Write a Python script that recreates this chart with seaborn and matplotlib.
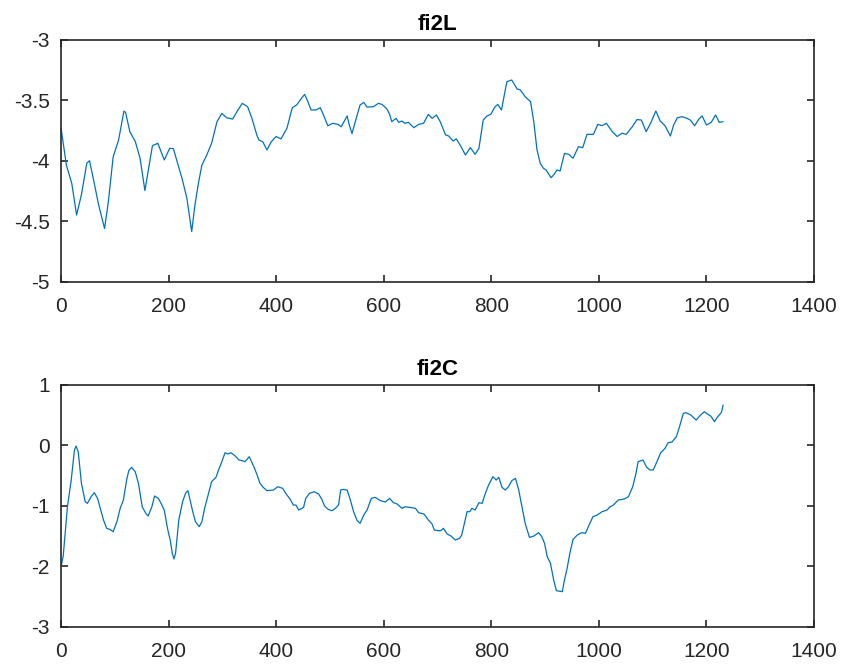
import matplotlib
matplotlib.use("Agg")
import matplotlib.pyplot as plt
import seaborn as sns
import pandas as pd

top_x = [0,10,20,29,38,48,53,60,70,81,88,97,107,117,120,128,138,147,156,163,170,180,186,192,202,209,215,225,234,243,249,256,262,271,280,290,299,308,319,329,337,347,355,364,368,375,383,391,400,409,420,430,438,447,453,459,465,474,482,488,496,505,515,521,532,536,541,548,556,563,569,581,590,597,606,611,615,623,628,634,639,646,656,665,674,683,690,698,705,715,721,729,735,742,752,761,770,777,785,792,799,807,812,819,823,829,838,848,854,863,873,879,885,891,897,902,911,916,922,928,936,944,952,962,970,978,990,998,1006,1014,1025,1034,1043,1051,1062,1071,1079,1088,1097,1106,1114,1123,1133,1139,1146,1155,1164,1170,1178,1186,1192,1200,1209,1217,1224,1231]
top_y = [-3.727,-4.036,-4.187,-4.449,-4.28,-4.02,-4.0,-4.147,-4.366,-4.56,-4.34,-3.967,-3.83,-3.59,-3.60,-3.76,-3.84,-3.98,-4.247,-4.063,-3.876,-3.856,-3.925,-3.994,-3.898,-3.90,-3.994,-4.146,-4.31,-4.586,-4.366,-4.173,-4.036,-3.953,-3.856,-3.678,-3.609,-3.645,-3.656,-3.581,-3.526,-3.554,-3.65,-3.787,-3.829,-3.843,-3.911,-3.843,-3.80,-3.82,-3.733,-3.562,-3.54,-3.485,-3.452,-3.512,-3.581,-3.581,-3.562,-3.622,-3.711,-3.691,-3.70,-3.72,-3.63,-3.705,-3.776,-3.664,-3.54,-3.518,-3.557,-3.554,-3.526,-3.535,-3.573,-3.617,-3.677,-3.65,-3.683,-3.672,-3.691,-3.683,-3.727,-3.70,-3.691,-3.617,-3.65,-3.622,-3.677,-3.787,-3.796,-3.837,-3.82,-3.87,-3.953,-3.892,-3.947,-3.898,-3.664,-3.63,-3.617,-3.554,-3.535,-3.581,-3.485,-3.347,-3.333,-3.407,-3.416,-3.471,-3.512,-3.677,-3.911,-4.021,-4.063,-4.077,-4.14,-4.118,-4.077,-4.085,-3.94,-3.947,-3.98,-3.884,-3.892,-3.782,-3.782,-3.70,-3.71,-3.691,-3.76,-3.80,-3.773,-3.782,-3.72,-3.66,-3.664,-3.76,-3.683,-3.589,-3.672,-3.711,-3.796,-3.705,-3.645,-3.636,-3.65,-3.664,-3.711,-3.656,-3.63,-3.705,-3.683,-3.622,-3.683,-3.677]

bot_x = [0,4,12,19,25,28,32,38,45,49,56,62,68,73,79,85,91,97,104,110,116,122,126,131,138,144,151,157,162,169,174,181,186,192,198,203,207,210,213,219,226,232,236,240,245,250,257,262,267,273,280,288,293,299,305,310,316,324,331,337,342,350,358,364,370,376,383,395,403,412,420,426,432,437,442,451,455,462,471,479,485,490,497,504,510,516,520,525,532,538,544,550,556,563,569,577,584,594,603,611,618,625,634,640,649,659,665,675,683,690,694,702,706,711,718,725,733,741,745,750,755,760,764,770,777,783,789,795,803,809,814,820,826,832,838,845,851,857,863,871,879,888,894,899,904,910,916,921,932,936,941,946,952,960,968,975,981,989,997,1006,1015,1021,1027,1036,1047,1055,1063,1069,1073,1082,1089,1095,1101,1108,1115,1123,1129,1136,1144,1150,1157,1162,1171,1181,1189,1196,1202,1208,1215,1220,1228,1231]
bot_y = [-2.008,-1.843,-1.017,-0.576,-0.08,-0.014,-0.107,-0.63,-0.934,-0.961,-0.851,-0.785,-0.879,-1.044,-1.237,-1.375,-1.391,-1.43,-1.264,-1.044,-0.906,-0.576,-0.421,-0.366,-0.438,-0.631,-1.017,-1.116,-1.171,-1.017,-0.84,-0.879,-0.961,-1.072,-1.375,-1.567,-1.788,-1.88,-1.788,-1.237,-0.934,-0.785,-0.752,-0.906,-1.099,-1.264,-1.347,-1.264,-1.044,-0.84,-0.603,-0.532,-0.41,-0.273,-0.124,-0.146,-0.124,-0.179,-0.245,-0.256,-0.273,-0.19,-0.344,-0.477,-0.631,-0.697,-0.752,-0.741,-0.686,-0.713,-0.824,-0.89,-0.989,-0.989,-1.072,-1.028,-0.879,-0.796,-0.769,-0.807,-0.895,-1.006,-1.061,-1.083,-1.044,-0.989,-0.741,-0.730,-0.741,-0.906,-1.099,-1.237,-1.292,-1.154,-1.072,-0.879,-0.862,-0.917,-0.939,-0.879,-0.95,-0.972,-1.044,-1.017,-1.028,-1.044,-1.116,-1.138,-1.237,-1.303,-1.402,-1.413,-1.413,-1.374,-1.468,-1.501,-1.567,-1.54,-1.485,-1.292,-1.099,-1.099,-1.044,-1.072,-0.95,-0.961,-0.796,-0.658,-0.52,-0.576,-0.532,-0.697,-0.741,-0.686,-0.587,-0.548,-0.741,-1.017,-1.292,-1.524,-1.502,-1.446,-1.513,-1.622,-1.843,-1.953,-2.229,-2.405,-2.421,-2.229,-2.036,-1.788,-1.556,-1.484,-1.446,-1.457,-1.336,-1.181,-1.154,-1.099,-1.072,-1.017,-0.989,-0.906,-0.89,-0.851,-0.686,-0.466,-0.273,-0.245,-0.366,-0.41,-0.41,-0.273,-0.124,-0.052,0.042,0.053,0.141,0.306,0.526,0.537,0.498,0.416,0.498,0.553,0.515,0.482,0.389,0.46,0.543,0.664]

titles = ["fi2L", "fi2C"]
x_ticks = [0, 200, 400, 600, 800, 1000, 1200, 1400]
top_yticks = [-5, -4.5, -4, -3.5, -3]
top_yticklabels = ["-5", "-4.5", "-4", "-3.5", "-3"]
bot_yticks = [-3, -2, -1, 0, 1]
bot_yticklabels = ["-3", "-2", "-1", "0", "1"]

sns.set_style("white")
plt.rcParams["font.family"] = ["Liberation Sans", "DejaVu Sans"]

W, H = 842, 668
fig = plt.figure(figsize=(W / 100, H / 100), dpi=100)
left = 61 / W
width = (814 - 61) / W
ax1 = fig.add_axes([left, 1 - 281.7 / H, width, 242 / H])
ax2 = fig.add_axes([left, 1 - 626.7 / H, width, 242 / H])

line_color = "#0072BD"
axis_color = "#262626"

df_top = pd.DataFrame({"x": top_x, "y": top_y})
df_bot = pd.DataFrame({"x": bot_x, "y": bot_y})

sns.lineplot(data=df_top, x="x", y="y", ax=ax1, color=line_color, lw=0.9, estimator=None, sort=False)
sns.lineplot(data=df_bot, x="x", y="y", ax=ax2, color=line_color, lw=0.9, estimator=None, sort=False)

for ax, title, yt, ytl, ylim in [
    (ax1, titles[0], top_yticks, top_yticklabels, (-5, -3)),
    (ax2, titles[1], bot_yticks, bot_yticklabels, (-3, 1)),
]:
    ax.set_xlim(0, 1400)
    ax.set_ylim(*ylim)
    ax.set_xticks(x_ticks)
    ax.set_xticklabels([str(t) for t in x_ticks])
    ax.set_yticks(yt)
    ax.set_yticklabels(ytl)
    ax.set_xlabel("")
    ax.set_ylabel("")
    ax.set_title(title, fontsize=16, fontweight="bold", color="black", pad=7)
    for s in ax.spines.values():
        s.set_visible(True)
        s.set_color(axis_color)
        s.set_linewidth(1.2)
    ax.tick_params(axis="both", which="major", direction="in", length=5, width=1.2,
                   color=axis_color, labelsize=15, labelcolor=axis_color,
                   top=True, right=True, bottom=True, left=True)
    ax.tick_params(axis="x", pad=11)
    ax.tick_params(axis="y", pad=8)
    ax.grid(False)

fig.savefig("out.png", dpi=100, facecolor="white")
